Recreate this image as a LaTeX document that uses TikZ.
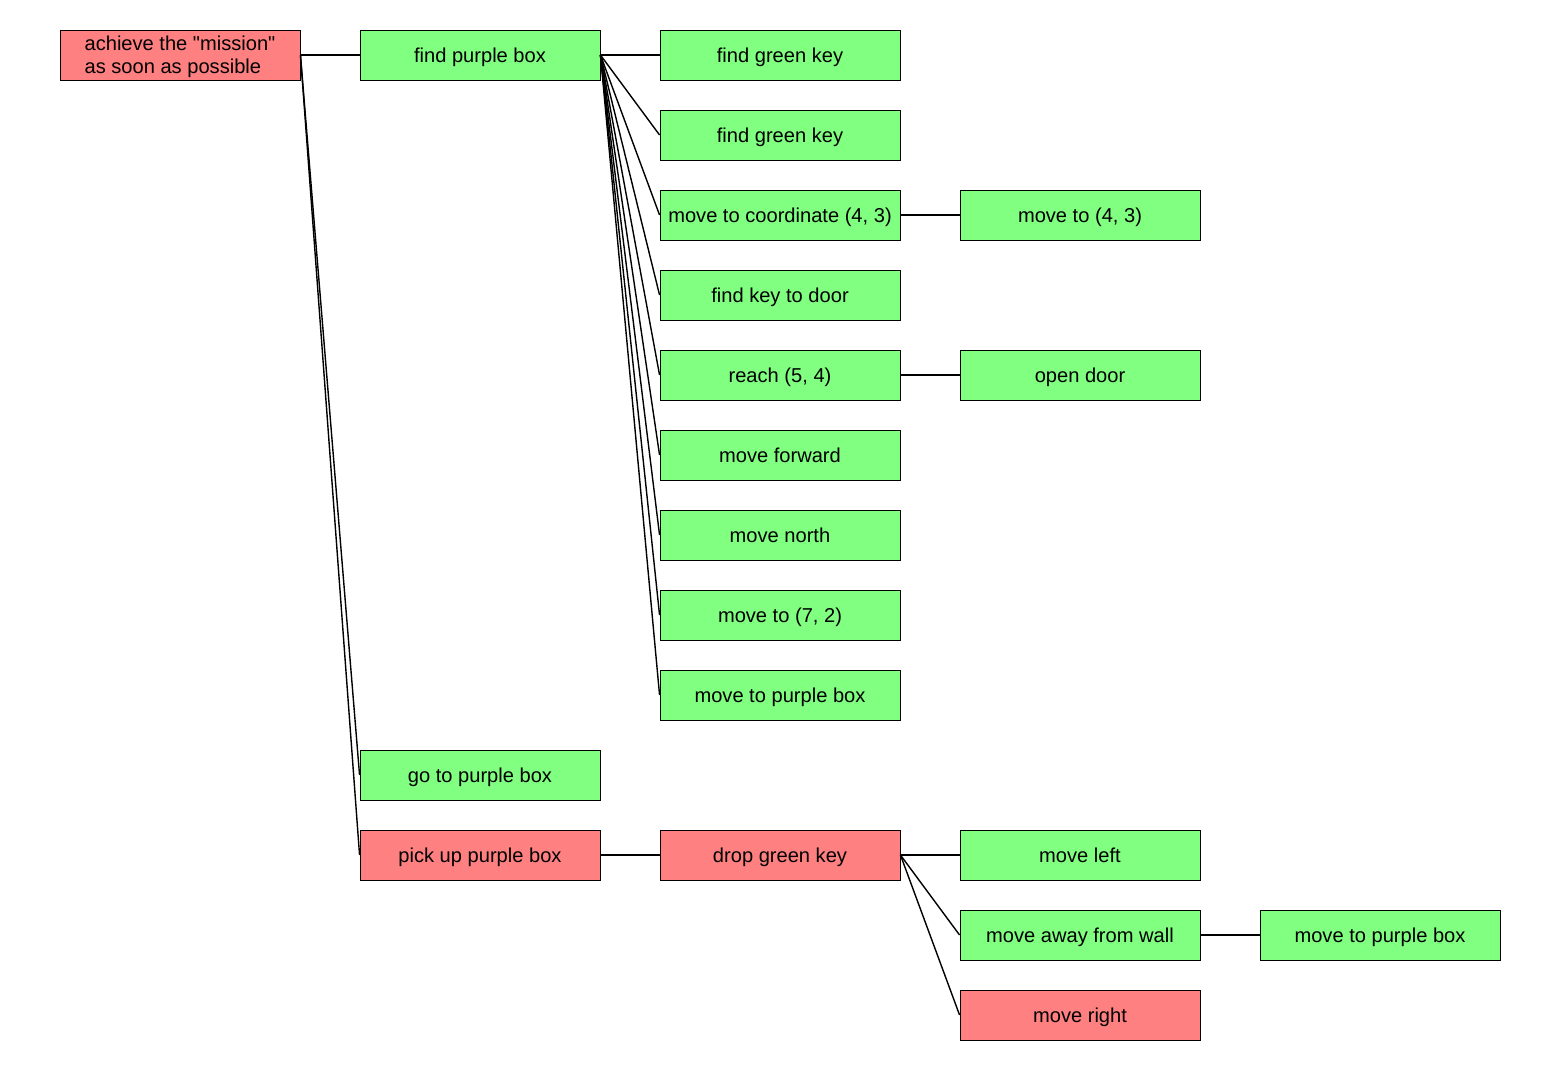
\documentclass[tikz,border=0pt]{standalone}
\usepackage{fontspec}
\setmainfont{Liberation Sans}
\definecolor{okgreen}{HTML}{80FF80}
\definecolor{failred}{HTML}{FF8080}
\begin{document}
\begin{tikzpicture}[x=1pt,y=-1pt,
  goalbox/.style={draw=black, line width=0.9pt, minimum width=240pt, minimum height=50pt,
    inner sep=0pt, font=\fontsize{20.1}{23}\selectfont},
  goal/.style={goalbox, text height=18.5pt, text depth=4.2pt},
  ok/.style={goal, fill=okgreen},
  bad/.style={goal, fill=failred},
  link/.style={line width=1.4pt}]
\useasboundingbox (0,0) rectangle (1560,1070);
\fill[white] (0,0) rectangle (1560,1070);

% root goal: box and its two-line text
\node[goalbox, fill=failred] (root) at (180,55) {};
\node[font=\fontsize{20.1}{23}\selectfont, align=left, inner sep=0pt] (rootlabel) at (180,57)
  {achieve the \textquotedbl mission\textquotedbl\\as soon as possible};

% second column
\node[ok]  (fpb) at (480,55)  {find purple box};
\node[ok]  (gpb) at (480,775) {go to purple box};
\node[bad] (pub) at (480,855) {pick up purple box};

% children of "find purple box"
\node[ok] (a1) at (780,55)  {find green key};
\node[ok] (a2) at (780,135) {find green key};
\node[ok] (a3) at (780,215) {move to coordinate (4, 3)};
\node[ok] (a4) at (780,295) {find key to door};
\node[ok] (a5) at (780,375) {reach (5, 4)};
\node[ok] (a6) at (780,455) {move forward};
\node[ok] (a7) at (780,535) {move north};
\node[ok] (a8) at (780,615) {move to (7, 2)};
\node[ok] (a9) at (780,695) {move to purple box};
\node[ok] (b3) at (1080,215) {move to (4, 3)};
\node[ok] (b5) at (1080,375) {open door};

% children of "pick up purple box"
\node[bad] (dgk) at (780,855)  {drop green key};
\node[ok]  (ml)  at (1080,855) {move left};
\node[ok]  (maw) at (1080,935) {move away from wall};
\node[bad] (mr)  at (1080,1015) {move right};
\node[ok]  (mpb) at (1380,935) {move to purple box};

% connectors
\foreach \c in {fpb,gpb,pub} \draw[link] (root.east) -- (\c.west);
\foreach \c in {a1,a2,a3,a4,a5,a6,a7,a8,a9} \draw[link] (fpb.east) -- (\c.west);
\draw[link] (a3.east) -- (b3.west);
\draw[link] (a5.east) -- (b5.west);
\draw[link] (pub.east) -- (dgk.west);
\foreach \c in {ml,maw,mr} \draw[link] (dgk.east) -- (\c.west);
\draw[link] (maw.east) -- (mpb.west);
\end{tikzpicture}
\end{document}
